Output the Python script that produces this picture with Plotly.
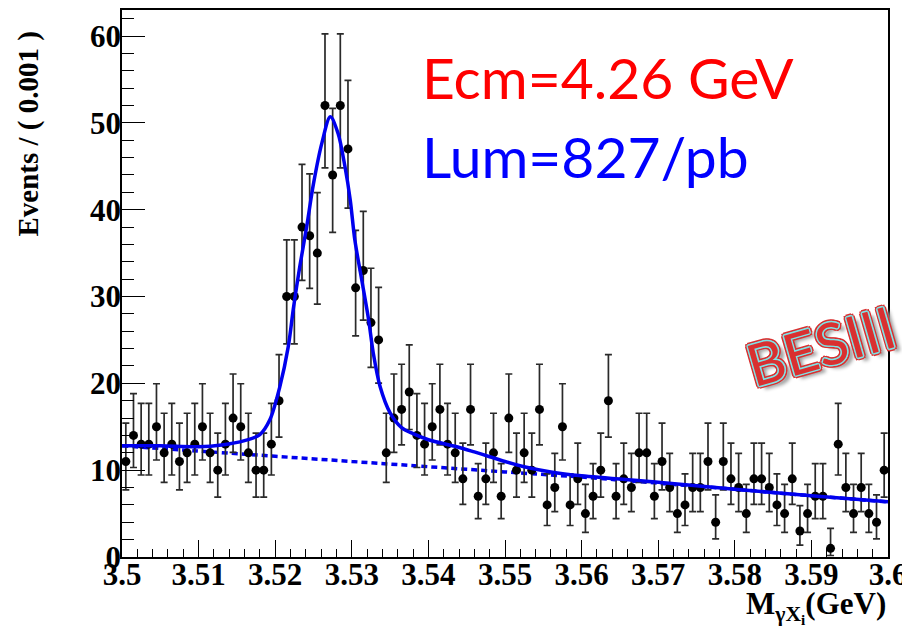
import numpy as np
import plotly.graph_objects as go

# ---------------- data ----------------
bin_low = 3.5
bin_width = 0.001
counts = [11, 14, 13, 13, 15, 12, 13, 11, 12, 13,
          15, 12, 10, 13, 16, 15, 12, 10, 10, 13,
          18, 30, 30, 38, 37, 35, 52, 44, 52, 47,
          31, 33, 27, 25, 12, 16, 17, 19, 14, 13,
          15, 17, 13, 12, 9, 17, 7, 9, 12, 7,
          16, 10, 12, 10, 17, 6, 8, 15, 6, 9,
          5, 7, 10, 18, 7, 9, 8, 12, 12, 7,
          11, 8, 5, 6, 8, 8, 11, 4, 11, 9,
          8, 5, 9, 9, 8, 6, 5, 9, 3, 5,
          7, 7, 1, 13, 8, 5, 8, 5, 4, 10]

# fitted total curve
fit_x = [3.500, 3.505, 3.510, 3.513, 3.516, 3.518, 3.5193, 3.5206, 3.5217,
         3.5224, 3.5232, 3.5241, 3.5250, 3.5261, 3.5272, 3.5282, 3.5291,
         3.5298, 3.5304, 3.5313, 3.5322, 3.5328, 3.5337, 3.5350, 3.5365,
         3.5380, 3.5400, 3.5437, 3.5460, 3.5480, 3.5500, 3.5525, 3.5560,
         3.5600, 3.5700, 3.5800, 3.5900, 3.6000]
fit_y = [12.8, 12.8, 12.7, 12.9, 13.4, 14.1, 15.8, 19.6, 24.2,
         28.8, 33.4, 38.0, 43.0, 47.7, 50.7, 48.8, 45.0,
         41.1, 36.5, 31.9, 27.3, 23.5, 19.6, 16.6, 14.9,
         14.2, 13.5, 12.7, 12.1, 11.55, 11.0, 10.4, 9.8,
         9.35, 8.6, 7.8, 7.05, 6.35]

# background component (dashed)
bkg_x = [3.50, 3.51, 3.52, 3.53, 3.54, 3.55, 3.56, 3.57, 3.58, 3.59, 3.60]
bkg_y = [12.8, 12.2, 11.6, 11.0, 10.4, 9.8, 9.2, 8.5, 7.8, 7.05, 6.35]

x_tickvals = [3.50, 3.51, 3.52, 3.53, 3.54, 3.55, 3.56, 3.57, 3.58, 3.59, 3.60]
x_ticktext = ["3.5", "3.51", "3.52", "3.53", "3.54", "3.55", "3.56", "3.57", "3.58", "3.59", "3.6"]
y_tickvals = [0, 10, 20, 30, 40, 50, 60]

# ---------------- derived ----------------
n = np.array(counts, dtype=float)
centers = bin_low + bin_width * (np.arange(len(counts)) + 0.5)
# Garwood (Poisson) 68% interval, Wilson-Hilferty approximation
nn = np.maximum(n, 1)
lo = np.where(n > 0, n * (1 - 1 / (9 * nn) - 1 / (3 * np.sqrt(nn))) ** 3, 0)
up = (n + 1) * (1 - 1 / (9 * (n + 1)) + 1 / (3 * np.sqrt(n + 1))) ** 3
err_minus = n - lo
err_plus = up - n

# page geometry (the page body adds an 8px offset)
W, H = 902, 622
L, R, T, B = 114, 22, 2, 73
PX0, PX1 = 122, 888      # plot left/right on the page
PY1, PH = 557, 547       # plot bottom on the page, plot height


def px(xp):
    return (xp - PX0) / (PX1 - PX0)


def py(yp):
    return (PY1 - yp) / PH


fig = go.Figure()

fig.add_trace(go.Scatter(
    x=bkg_x, y=bkg_y, mode="lines",
    line=dict(color="#0000ee", width=3.5, dash="6px,4px", shape="spline"),
    hoverinfo="skip", showlegend=False))

fig.add_trace(go.Scatter(
    x=centers, y=counts, mode="markers",
    marker=dict(color="black", size=9),
    error_y=dict(type="data", symmetric=False, array=err_plus, arrayminus=err_minus,
                 color="#2a2a2a", thickness=1.7, width=3.5),
    showlegend=False))

fig.add_trace(go.Scatter(
    x=fit_x, y=fit_y, mode="lines",
    line=dict(color="#0000ee", width=3.5, shape="spline", smoothing=0.9),
    hoverinfo="skip", showlegend=False))

axis_font = dict(family="Liberation Serif", size=31, color="black", weight="bold")

fig.update_layout(
    width=W, height=H,
    margin=dict(l=L, r=R, t=T, b=B),
    paper_bgcolor="white", plot_bgcolor="white",
    xaxis=dict(range=[3.5, 3.6], tickvals=x_tickvals, ticktext=x_ticktext,
               ticks="inside", ticklen=17, tickwidth=1.3, tickcolor="black",
               minor=dict(dtick=0.002, tick0=3.5, ticks="inside", ticklen=8, tickwidth=1.3, tickcolor="black"),
               showline=True, linecolor="black", linewidth=1.7, mirror=True,
               showgrid=False, zeroline=False, tickfont=axis_font,
               ticklabelstandoff=-11, automargin=False),
    yaxis=dict(range=[0, 63.0], tickvals=y_tickvals,
               ticks="inside", ticklen=23, tickwidth=1.3, tickcolor="black",
               minor=dict(dtick=2, tick0=0, ticks="inside", ticklen=12, tickwidth=1.3, tickcolor="black"),
               showline=True, linecolor="black", linewidth=1.7, mirror=True,
               showgrid=False, zeroline=False, tickfont=axis_font,
               ticklabelstandoff=-7, automargin=False),
)

fig.add_annotation(text="Events / ( 0.001 )", textangle=-90,
                   xref="paper", yref="paper", x=px(28), y=py(30),
                   xanchor="center", yanchor="top", showarrow=False,
                   font=dict(family="Liberation Serif", size=29, color="black", weight="bold"))

fig.add_annotation(text="M<sub>γX<sub>i</sub></sub>(GeV)",
                   xref="paper", yref="paper", x=1.0, y=py(607),
                   xanchor="right", yanchor="middle", showarrow=False,
                   font=dict(family="Liberation Serif", size=31, color="black", weight="bold"))

fig.add_annotation(text="Ecm=4.26 GeV", xref="paper", yref="paper",
                   x=px(420), y=py(77), xanchor="left", yanchor="middle",
                   showarrow=False, font=dict(family="Lato", size=57, color="#ff0000"))
fig.add_annotation(text="Lum=827/pb", xref="paper", yref="paper",
                   x=px(420), y=py(156), xanchor="left", yanchor="middle",
                   showarrow=False, font=dict(family="Lato", size=57, color="#0000ff"))

cy = "#7fe3e6"
rd = "#d93030"
shadow = ", ".join(
    [f"{dx}px {dy}px 0 {cy}" for dx, dy in [(-1.5, 0), (1.5, 0), (0, -1.5), (0, 1.5), (-1, -1), (1, 1), (-1, 1), (1, -1)]] +
    [f"{dx}px {dy}px 0 {rd}" for dx, dy in [(-3, 0), (3, 0), (0, -3), (0, 3), (-2.2, -2.2), (2.2, 2.2), (-2.2, 2.2), (2.2, -2.2)]] +
    ["5px 5px 4px #9a9a9a"])
fig.add_annotation(text="BESIII Preliminary", xref="paper", yref="paper",
                   x=px(736), y=py(401), xanchor="left", yanchor="bottom",
                   textangle=-16, showarrow=False,
                   font=dict(family="Lato", size=58, color=rd, weight="normal", shadow=shadow))

fig.write_html("out.html")
